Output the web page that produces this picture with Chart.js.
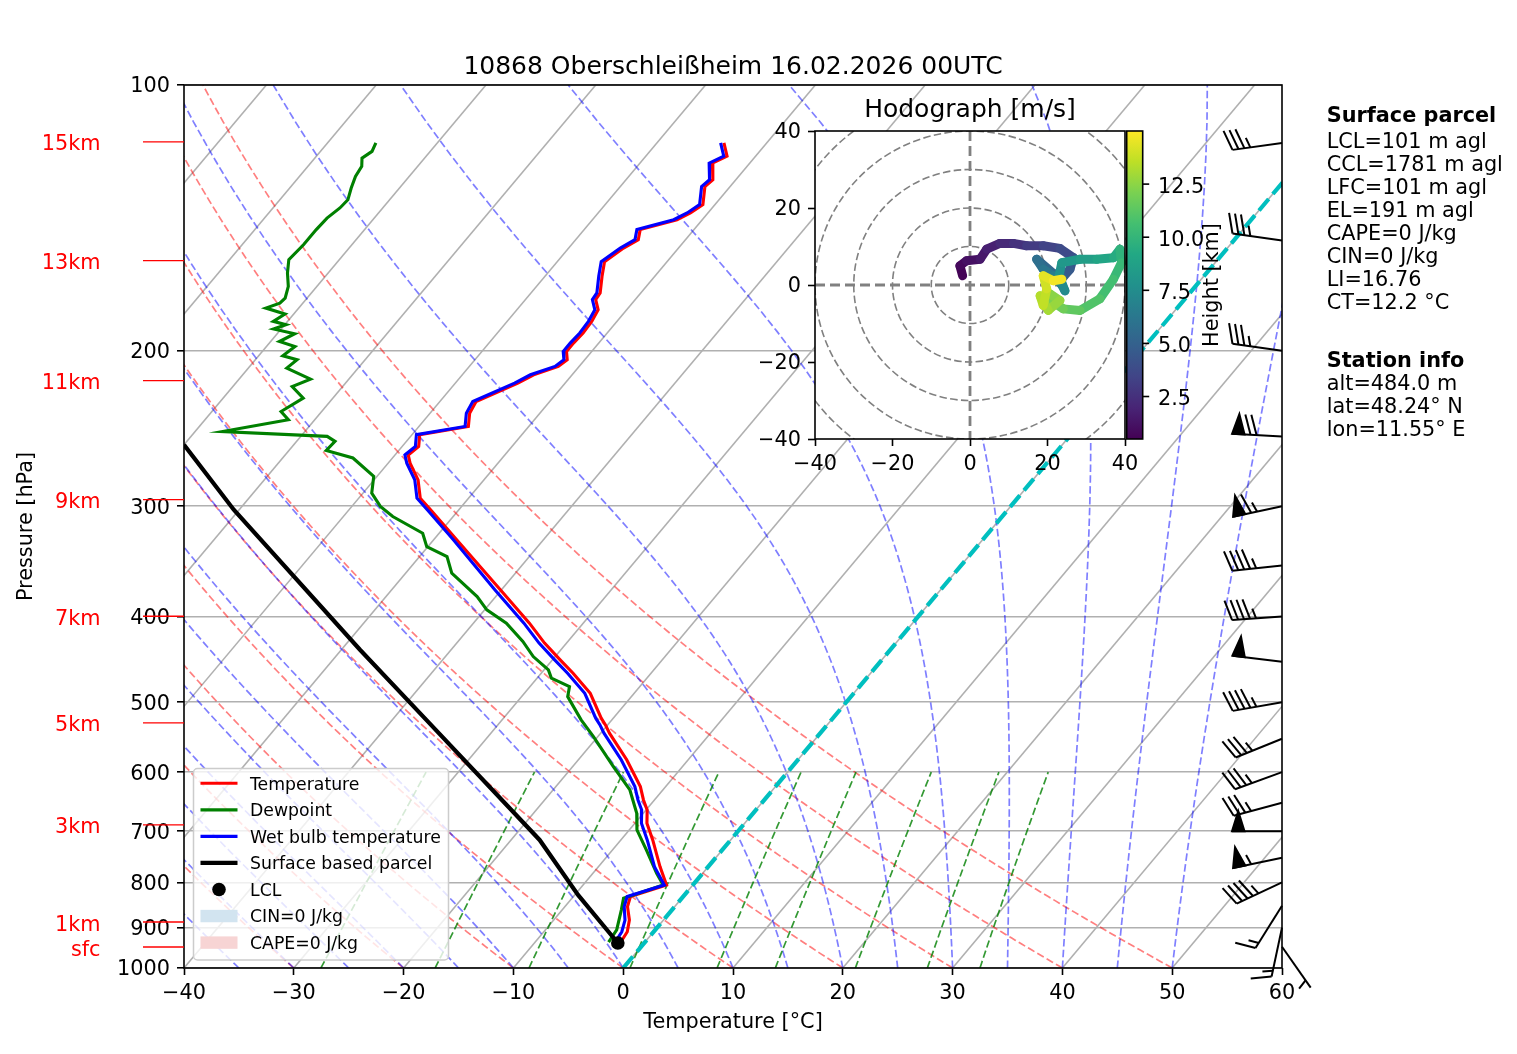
<!DOCTYPE html>
<html>
<head>
<meta charset="utf-8">
<title>10868 Oberschleißheim Skew-T</title>
<script src="https://cdn.jsdelivr.net/npm/chart.js@4.4.1/dist/chart.umd.min.js"></script>
<style>
html,body{margin:0;padding:0;background:#ffffff;overflow:hidden;}
#wrap{position:relative;width:1517px;height:1054px;background:#fff;}
#skew{position:absolute;left:0;top:0;width:1517px;height:1054px;}
#hodo{position:absolute;left:760px;top:85px;width:480px;height:400px;}
</style>
</head>
<body>
<div id="wrap">
<canvas id="skew" width="1517" height="1054"></canvas>
<canvas id="hodo" width="480" height="400"></canvas>
</div>
<script>
// ---------------- DATA ----------------
const TITLE = '10868 Oberschleißheim 16.02.2026 00UTC';

const pressureTicks = [100, 200, 300, 400, 500, 600, 700, 800, 900, 1000];
const temperatureTicks = [-40, -30, -20, -10, 0, 10, 20, 30, 40, 50, 60];

// Temperature profile (hPa, °C)
const tempP = [116.3,120.4,122.6,128.0,130.3,136.6,139.6,142.1,145.8,149.7,153.0,158.5,164.7,172.0,175.0,179.7,185.2,190.9,196.0,200.3,204.7,208.3,212.9,217.6,228.3,235.3,243.6,248.9,256.6,262.4,268.1,280.0,293.7,304.1,327.4,373.0,406.9,428.6,447.7,463.6,488.5,521.3,530.5,542.1,581.0,623.2,645.2,662.2,685.7,716.1,767.7,805.4,830.1,852.1,882.5,909.8,935.0];
const tempT = [-53.9,-52.6,-53.4,-52.1,-52.3,-51.1,-51.6,-52.3,-54.9,-54.3,-55.0,-55.7,-54.8,-53.7,-53.6,-52.6,-52.3,-52.2,-52.3,-52.3,-51.6,-51.9,-53.5,-54.3,-56.7,-56.4,-55.5,-59.3,-58.5,-58.8,-58.0,-56.0,-54.4,-52.3,-47.9,-40.1,-34.9,-32.0,-29.3,-27.1,-24.0,-21.1,-20.2,-19.2,-15.6,-12.3,-11.0,-9.9,-8.9,-7.1,-4.4,-2.4,-4.8,-4.3,-3.1,-2.4,-2.2];
// Wet bulb temperature at the same levels (°C)
const wetT = [-54.2,-52.9,-53.7,-52.4,-52.6,-51.4,-51.9,-52.6,-55.2,-54.6,-55.3,-56.0,-55.1,-54.0,-53.9,-52.9,-52.6,-52.5,-52.6,-52.6,-51.9,-52.2,-53.8,-54.6,-57.0,-56.7,-55.8,-59.6,-58.8,-59.1,-58.3,-56.3,-54.7,-52.6,-48.2,-40.6,-35.4,-32.5,-29.8,-27.6,-24.5,-21.6,-20.7,-19.7,-16.1,-12.8,-11.5,-10.4,-9.4,-7.6,-4.9,-2.6,-5.1,-4.6,-3.5,-2.9,-2.7];
// Dewpoint profile (hPa, °C)
const dewP = [116.3,118.9,121.0,123.6,126.9,130.8,134.9,137.8,141.5,145.8,151.7,157.7,163.3,169.1,174.3,176.6,178.9,181.7,185.2,186.8,188.9,191.3,195.2,197.8,202.6,204.7,209.2,215.3,219.5,226.3,234.3,239.4,246.9,250.0,253.3,259.4,264.5,277.5,289.9,300.1,308.1,321.8,333.3,342.0,357.1,379.6,393.0,406.9,426.8,443.9,459.6,469.6,480.1,492.8,523.6,546.9,591.3,628.6,667.9,697.7,735.2,781.0,805.4,833.7,859.8,905.6,935.0];
const dewT = [-85.6,-85.3,-85.7,-85.1,-84.9,-84.4,-83.8,-83.9,-84.3,-84.4,-84.4,-84.6,-83.7,-82.6,-82.0,-82.1,-83.0,-80.8,-81.3,-79.9,-80.7,-78.4,-79.2,-77.4,-77.8,-76.2,-76.5,-73.5,-74.6,-72.7,-73.7,-72.4,-77.5,-67.6,-66.5,-66.6,-63.6,-60.3,-59.2,-57.4,-55.5,-51.5,-50.1,-47.5,-45.8,-41.7,-39.8,-37.0,-34.1,-32.0,-29.6,-28.7,-26.4,-25.8,-22.8,-20.4,-16.3,-13.0,-10.6,-9.3,-6.9,-4.2,-2.7,-5.3,-4.6,-3.5,-3.3];
// Surface based parcel
const parcelP = [936.9, 826.5, 716.1, 523.6, 436.1, 302.7, 255.5];
const parcelT = [-2.4, -9.7, -17.4, -36.9, -48.3, -70.5, -80.0];
// LCL
const lclP = [936.9];
const lclT = [-2.4];

// Height markers on the left (label, pressure)
const heightLabels = ['15km','13km','11km','9km','7km','5km','3km','1km','sfc'];
const heightP = [116.0, 158.1, 216.2, 294.9, 399.6, 527.7, 688.6, 887.0, 946.7];

// Wind barbs (hPa, kt, direction deg)
const barbP   = [116.3, 150, 200, 250, 300, 350, 400, 450, 500, 550, 600, 650, 700, 750, 800, 850, 900, 946];
const barbSpd = [35, 35, 35, 70, 65, 45, 45, 50, 45, 35, 35, 35, 50, 55, 45, 15, 15, 5];
const barbDir = [262, 278, 278, 273, 258, 264, 266, 277, 260, 248, 250, 255, 270, 258, 245, 212, 192, 145];

// Hodograph (m/s) coloured by height (km)
const hodoH = [0.5,0.7,1.0,1.3,1.6,2.0,2.4,2.8,3.2,3.6,4.0,4.4,4.8,5.2,5.6,6.0,6.4,6.8,7.2,7.6,8.0,8.4,8.8,9.2,9.6,10.0,10.4,10.8,11.2,11.6,12.0,12.3,12.6,12.9,13.2,13.5,13.8,14.2,14.6,15.0];
const hodoU = [-1.9,-2.6,-0.9,2.6,4.3,7.7,11.2,14.6,18.9,23.2,26.7,25.8,24.0,21.5,17.2,18.9,21.5,23.7,24.5,23.0,23.7,28.4,32.7,37.0,38.7,39.1,37.0,33.5,28.4,24.1,21.5,20.6,23.2,20.2,18.1,18.9,19.8,18.9,21.5,23.7];
const hodoV = [2.4,5.0,6.3,6.7,9.3,10.8,10.8,10.2,10.2,9.5,7.1,4.1,2.0,3.0,6.7,4.1,2.4,0.0,-1.5,2.5,5.8,6.7,6.7,7.1,9.3,5.8,1.5,-3.6,-6.6,-6.2,-4.5,-2.3,-4.0,-6.6,-2.8,-5.3,-1.0,2.4,1.1,1.5];
const hodoTicks = [-40, -20, 0, 20, 40];
const hodoRings = [10, 20, 30, 40, 50];
const cbarTicks = [2.5, 5.0, 7.5, 10.0, 12.5];

// Text block on the right
const parcelInfoTitle = 'Surface parcel';
const parcelInfo = ['LCL=101 m agl','CCL=1781 m agl','LFC=101 m agl','EL=191 m agl','CAPE=0 J/kg','CIN=0 J/kg','LI=16.76','CT=12.2 °C'];
const stationInfoTitle = 'Station info';
const stationInfo = ['alt=484.0 m','lat=48.24° N','lon=11.55° E'];

// Background guide lines
const dryAdiabatT0 = [-40,-30,-20,-10,0,10,20,30,40,50];
const moistAdiabatT0 = [-40,-35,-30,-25,-20,-15,-10,-5,0,5,10,15,20,25,30,35,40,45,50];
const mixingRatios = [0.0004,0.001,0.002,0.004,0.007,0.01,0.016,0.024,0.032];

// ---------------- HELPERS ----------------
const FONT = "'DejaVu Sans', 'Liberation Sans', sans-serif";
const SKEW = 67.5; // skew-T projection (°C per decade of pressure)
const sx = (T, p) => T + SKEW * Math.log10(1000 / p);
const prof = (P, T) => P.map((p, i) => ({x: sx(T[i], p), y: p}));
const fmt = v => (v < 0 ? '\u2212' + Math.abs(v) : String(v));

function txt(ctx, s, x, y, size, o) {
  o = o || {};
  ctx.save();
  ctx.font = (o.bold ? 'bold ' : '') + size + 'px ' + FONT;
  ctx.fillStyle = o.color || '#000';
  ctx.textAlign = o.align || 'left';
  ctx.textBaseline = 'alphabetic';
  ctx.translate(x, y);
  if (o.rot) ctx.rotate(o.rot);
  ctx.fillText(s, 0, 0.364 * size);
  ctx.restore();
}

const VIR = [[0,'#440154'],[0.1,'#482475'],[0.2,'#414487'],[0.3,'#355f8d'],[0.4,'#2a788e'],[0.5,'#21918c'],[0.6,'#22a884'],[0.7,'#44bf70'],[0.8,'#7ad151'],[0.9,'#bddf26'],[1,'#fde725']];
function hex2rgb(h){return [parseInt(h.substr(1,2),16),parseInt(h.substr(3,2),16),parseInt(h.substr(5,2),16)];}
function viridis(t){
  t = Math.max(0, Math.min(1, t));
  for (let i = 0; i < VIR.length - 1; i++) {
    if (t <= VIR[i+1][0]) {
      const f = (t - VIR[i][0]) / (VIR[i+1][0] - VIR[i][0]);
      const a = hex2rgb(VIR[i][1]), b = hex2rgb(VIR[i+1][1]);
      return 'rgb(' + a.map((c, k) => Math.round(c + (b[k] - c) * f)).join(',') + ')';
    }
  }
  return VIR[VIR.length-1][1];
}

function mk(data, color, width, dash) {
  return {data, borderColor: color, backgroundColor: color, borderWidth: width, borderDash: dash || [],
          showLine: true, pointRadius: 0, pointHoverRadius: 0, fill: false, clip: 0, tension: 0};
}

// guide lines
const pGuide = []; for (let p = 1000; p >= 100; p -= 5) pGuide.push(p);
function dryLine(t0) {
  return pGuide.map(p => ({x: sx((t0 + 273.15) * Math.pow(p / 1000, 0.28571) - 273.15, p), y: p}));
}
function moistLine(t0) {
  const Rd = 287.04749, Cp = 1004.6662, Lv = 2.50084e6, eps = 0.6219569;
  const f = (p, T) => {
    const es = 6.112 * Math.exp(17.67 * (T - 273.15) / (T - 29.65));
    const rs = eps * es / (p - es);
    return (Rd * T + Lv * rs) / (Cp + Lv * Lv * rs * eps / (Rd * T * T)) / p;
  };
  let T = t0 + 273.15; const h = -2; const out = [{x: sx(t0, 1000), y: 1000}];
  for (let i = 1; i <= 450; i++) {
    const p = 1000 + h * (i - 1);
    const k1 = f(p, T), k2 = f(p + h/2, T + h/2*k1), k3 = f(p + h/2, T + h/2*k2), k4 = f(p + h, T + h*k3);
    T += h / 6 * (k1 + 2*k2 + 2*k3 + k4);
    const pn = 1000 + h * i;
    if (pn % 10 === 0) out.push({x: sx(T - 273.15, pn), y: pn});
  }
  return out;
}
function mixLine(w) {
  const out = [];
  for (let p = 1000; p >= 600; p -= 10) {
    const e = w * p / (0.6219569 + w);
    const l = Math.log(e / 6.112);
    out.push({x: sx(243.5 * l / (17.67 - l), p), y: p});
  }
  return out;
}

// ---------------- DATASETS (bottom to top) ----------------
const layers = [];
for (let t = -160; t <= 60; t += 10) layers.push(mk([{x: sx(t, 1000), y: 1000}, {x: sx(t, 100), y: 100}], '#b0b0b0', 1.6));
dryAdiabatT0.forEach(t0 => layers.push(mk(dryLine(t0), 'rgba(255,0,0,0.5)', 1.7, [7.5, 3.3])));
moistAdiabatT0.forEach(t0 => layers.push(mk(moistLine(t0), 'rgba(0,0,255,0.5)', 1.7, [7.5, 3.3])));
mixingRatios.forEach(w => layers.push(mk(mixLine(w), 'rgba(0,128,0,0.8)', 1.7, [7.5, 3.3])));
layers.push(mk([{x: 0, y: 1000}, {x: sx(0, 100), y: 100}], '#00bfbf', 4.2, [15, 6.5]));
layers.push(mk(prof(tempP, tempT), '#ff0000', 3.1));
layers.push(mk(prof(dewP, dewT), '#008000', 3.1));
layers.push(mk(prof(tempP, wetT), '#0000ff', 3.1));
layers.push(mk(prof(parcelP, parcelT), '#000000', 4.2));
layers.push({data: prof(lclP, lclT), showLine: false, pointRadius: 6.8, pointBackgroundColor: '#000', pointBorderColor: '#000', pointBorderWidth: 0, clip: false});
layers.forEach((d, i) => { d.order = layers.length - i; });

// ---------------- DECORATION ----------------
function drawBarb(ctx, x0, y0, spd, dir) {
  const L = 50, fh = 20, fw = 12.5, sp = 6;
  const r = dir * Math.PI / 180;
  const s = {x: Math.sin(r), y: -Math.cos(r)};
  const n = {x: -s.y, y: s.x};
  const P = (a, b) => [x0 + a * s.x + b * n.x, y0 + a * s.y + b * n.y];
  let v = Math.round(spd / 5) * 5;
  const nf = Math.floor(v / 50); v -= nf * 50;
  const nb = Math.floor(v / 10); v -= nb * 10;
  const half = v >= 5;
  ctx.save();
  ctx.strokeStyle = '#000'; ctx.fillStyle = '#000'; ctx.lineWidth = 2; ctx.lineCap = 'butt'; ctx.lineJoin = 'miter';
  ctx.beginPath(); ctx.moveTo(...P(0, 0)); ctx.lineTo(...P(L, 0)); ctx.stroke();
  let o = L;
  for (let i = 0; i < nf; i++) {
    if (o !== L) o += sp / 2;
    ctx.beginPath(); ctx.moveTo(...P(o, 0)); ctx.lineTo(...P(o - fw / 2, fh)); ctx.lineTo(...P(o - fw, 0)); ctx.closePath();
    ctx.fill(); ctx.stroke();
    o -= fw + sp;
  }
  for (let i = 0; i < nb; i++) {
    ctx.beginPath(); ctx.moveTo(...P(o, 0)); ctx.lineTo(...P(o + fw / 2, fh)); ctx.stroke();
    o -= sp;
  }
  if (half) {
    if (o === L) o -= 1.5 * sp;
    ctx.beginPath(); ctx.moveTo(...P(o, 0)); ctx.lineTo(...P(o + fw / 4, fh / 2)); ctx.stroke();
  }
  ctx.restore();
}

const legendItems = [
  {label: 'Temperature', kind: 'line', color: '#ff0000', w: 3.1},
  {label: 'Dewpoint', kind: 'line', color: '#008000', w: 3.1},
  {label: 'Wet bulb temperature', kind: 'line', color: '#0000ff', w: 3.1},
  {label: 'Surface based parcel', kind: 'line', color: '#000000', w: 4.2},
  {label: 'LCL', kind: 'dot', color: '#000000'},
  {label: 'CIN=0 J/kg', kind: 'patch', color: 'rgb(210,228,240)'},
  {label: 'CAPE=0 J/kg', kind: 'patch', color: 'rgb(247,212,212)'}
];
function drawLegend(ctx) {
  const bx = 193.5, by = 768.5, bw = 255, bh = 191.5, r = 4;
  ctx.save();
  ctx.beginPath();
  ctx.moveTo(bx + r, by); ctx.lineTo(bx + bw - r, by); ctx.arcTo(bx + bw, by, bx + bw, by + r, r);
  ctx.lineTo(bx + bw, by + bh - r); ctx.arcTo(bx + bw, by + bh, bx + bw - r, by + bh, r);
  ctx.lineTo(bx + r, by + bh); ctx.arcTo(bx, by + bh, bx, by + bh - r, r);
  ctx.lineTo(bx, by + r); ctx.arcTo(bx, by, bx + r, by, r); ctx.closePath();
  ctx.fillStyle = 'rgba(255,255,255,0.8)'; ctx.fill();
  ctx.strokeStyle = '#cccccc'; ctx.lineWidth = 1.5; ctx.stroke();
  legendItems.forEach((it, i) => {
    const yc = 783.3 + i * 26.55;
    if (it.kind === 'line') {
      ctx.strokeStyle = it.color; ctx.lineWidth = it.w; ctx.beginPath(); ctx.moveTo(200.5, yc); ctx.lineTo(237.5, yc); ctx.stroke();
    } else if (it.kind === 'dot') {
      ctx.fillStyle = it.color; ctx.beginPath(); ctx.arc(219, yc, 6.8, 0, Math.PI * 2); ctx.fill();
    } else {
      ctx.fillStyle = it.color; ctx.fillRect(200.5, yc - 6.2, 37, 12.4);
    }
    txt(ctx, it.label, 250, yc, 17.3);
  });
  ctx.restore();
}

const skewPlugin = {
  id: 'skewDecor',
  afterDatasetsDraw(chart) {
    const {ctx, chartArea: a, scales: {y}} = chart;
    ctx.save();
    ctx.strokeStyle = '#000'; ctx.lineWidth = 1.6;
    ctx.strokeRect(a.left, a.top, a.right - a.left, a.bottom - a.top);
    ctx.restore();
    heightLabels.forEach((lab, i) => {
      const py = y.getPixelForValue(heightP[i]);
      ctx.save(); ctx.strokeStyle = '#ff0000'; ctx.lineWidth = 1.3;
      ctx.beginPath(); ctx.moveTo(a.left - 41, py); ctx.lineTo(a.left, py); ctx.stroke(); ctx.restore();
      txt(ctx, lab, 100.5, py + 1, 20.8, {color: '#ff0000', align: 'right'});
    });
    barbP.forEach((p, i) => drawBarb(ctx, a.right, y.getPixelForValue(p), barbSpd[i], barbDir[i]));
    drawLegend(ctx);
    txt(ctx, TITLE, (a.left + a.right) / 2, 65, 25, {align: 'center'});
    txt(ctx, 'Temperature [°C]', (a.left + a.right) / 2, 1020, 20.8, {align: 'center'});
    txt(ctx, 'Pressure [hPa]', 24, (a.top + a.bottom) / 2, 20.8, {align: 'center', rot: -Math.PI / 2});
    txt(ctx, parcelInfoTitle, 1326.7, 114, 20.8, {bold: true});
    parcelInfo.forEach((s, i) => txt(ctx, s, 1326.7, 140.7 + i * 22.95, 20.8));
    txt(ctx, stationInfoTitle, 1326.7, 359.3, 20.8, {bold: true});
    stationInfo.forEach((s, i) => txt(ctx, s, 1326.7, 382.3 + i * 23.3, 20.8));
  }
};

new Chart(document.getElementById('skew'), {
  type: 'scatter',
  data: {datasets: layers},
  options: {
    responsive: false, devicePixelRatio: 1, animation: false, events: [],
    layout: {padding: {left: 0, top: 85, right: 235, bottom: 0}},
    plugins: {legend: {display: false}, tooltip: {enabled: false}, title: {display: false}},
    scales: {
      x: {
        type: 'linear', position: 'bottom', min: -40, max: 60,
        afterBuildTicks: s => { s.ticks = temperatureTicks.map(v => ({value: v})); },
        afterFit: s => { s.height = 86; },
        ticks: {color: '#000', font: {family: FONT, size: 20.8}, padding: 6, maxRotation: 0, autoSkip: false, callback: v => fmt(v)},
        grid: {drawOnChartArea: false, drawTicks: true, tickLength: 7, tickColor: '#000', tickWidth: 1.6},
        border: {display: false}
      },
      y: {
        type: 'logarithmic', position: 'left', min: 100, max: 1000, reverse: true,
        afterBuildTicks: s => { s.ticks = pressureTicks.map(v => ({value: v})); },
        afterFit: s => { s.width = 184; },
        ticks: {color: '#000', font: {family: FONT, size: 20.8}, padding: 7, labelOffset: 2, autoSkip: false, callback: v => String(v)},
        grid: {color: '#b0b0b0', lineWidth: 1.6, drawTicks: true, tickLength: 7, tickColor: '#000', tickWidth: 1.6},
        border: {display: false}
      }
    }
  },
  plugins: [skewPlugin]
});

// ---------------- HODOGRAPH ----------------
const hMin = Math.min(...hodoH), hMax = Math.max(...hodoH);
const hNorm = h => (h - hMin) / (hMax - hMin);

const hodoPlugin = {
  id: 'hodoDecor',
  beforeDraw(chart) {
    const {ctx, chartArea: a} = chart;
    ctx.save(); ctx.fillStyle = '#ffffff'; ctx.fillRect(a.left, a.top, a.right - a.left, a.bottom - a.top); ctx.restore();
  },
  beforeDatasetsDraw(chart) {
    const {ctx, chartArea: a, scales: {x, y}} = chart;
    ctx.save();
    ctx.beginPath(); ctx.rect(a.left, a.top, a.right - a.left, a.bottom - a.top); ctx.clip();
    const cx = x.getPixelForValue(0), cy = y.getPixelForValue(0);
    ctx.strokeStyle = '#808080'; ctx.lineWidth = 1.6; ctx.setLineDash([7.5, 3.3]);
    hodoRings.forEach(r => {
      const rx = x.getPixelForValue(r) - cx, ry = cy - y.getPixelForValue(r);
      ctx.beginPath(); ctx.ellipse(cx, cy, rx, ry, 0, 0, Math.PI * 2); ctx.stroke();
    });
    ctx.lineWidth = 2.8; ctx.setLineDash([10, 5]);
    ctx.beginPath(); ctx.moveTo(cx, a.top); ctx.lineTo(cx, a.bottom); ctx.stroke();
    ctx.beginPath(); ctx.moveTo(a.left, cy); ctx.lineTo(a.right, cy); ctx.stroke();
    ctx.restore();
  },
  afterDraw(chart) {
    const {ctx, chartArea: a} = chart;
    ctx.save();
    ctx.strokeStyle = '#000'; ctx.lineWidth = 1.6;
    ctx.strokeRect(a.left, a.top, a.right - a.left, a.bottom - a.top);
    const c0 = a.right + 1.7, c1 = a.right + 17.7, t0 = a.top, t1 = a.bottom;
    const g = ctx.createLinearGradient(0, t1, 0, t0);
    VIR.forEach(s => g.addColorStop(s[0], s[1]));
    ctx.fillStyle = g; ctx.fillRect(c0, t0, c1 - c0, t1 - t0);
    ctx.strokeRect(c0, t0, c1 - c0, t1 - t0);
    cbarTicks.forEach(v => {
      const py = t1 - hNorm(v) * (t1 - t0);
      ctx.beginPath(); ctx.moveTo(c1, py); ctx.lineTo(c1 + 6.5, py); ctx.stroke();
      txt(ctx, v.toFixed(1), c1 + 15.3, py + 1, 20.8);
    });
    ctx.restore();
    txt(ctx, 'Height [km]', 450, (t0 + t1) / 2, 20.8, {align: 'center', rot: -Math.PI / 2});
    txt(ctx, 'Hodograph [m/s]', (a.left + a.right) / 2, 22.5, 25, {align: 'center'});
  }
};

new Chart(document.getElementById('hodo'), {
  type: 'scatter',
  data: {datasets: [{
    data: hodoU.map((u, i) => ({x: u, y: hodoV[i]})),
    showLine: true, borderWidth: 9, pointRadius: 0, pointHoverRadius: 0, clip: 6, tension: 0,
    borderCapStyle: 'round', borderJoinStyle: 'round', borderColor: viridis(0),
    segment: {borderColor: c => viridis(hNorm((hodoH[c.p0DataIndex] + hodoH[c.p1DataIndex]) / 2))}
  }]},
  options: {
    responsive: false, devicePixelRatio: 1, animation: false, events: [],
    layout: {padding: {left: 0, top: 46, right: 115, bottom: 0}},
    plugins: {legend: {display: false}, tooltip: {enabled: false}},
    scales: {
      x: {
        type: 'linear', position: 'bottom', min: -40, max: 40,
        afterBuildTicks: s => { s.ticks = hodoTicks.map(v => ({value: v})); },
        afterFit: s => { s.height = 46; },
        ticks: {color: '#000', font: {family: FONT, size: 20.8}, padding: 6, maxRotation: 0, autoSkip: false, callback: v => fmt(v)},
        grid: {drawOnChartArea: false, drawTicks: true, tickLength: 7, tickColor: '#000', tickWidth: 1.6},
        border: {display: false}
      },
      y: {
        type: 'linear', position: 'left', min: -40, max: 40,
        afterBuildTicks: s => { s.ticks = hodoTicks.map(v => ({value: v})); },
        afterFit: s => { s.width = 55; },
        ticks: {color: '#000', font: {family: FONT, size: 20.8}, padding: 7, labelOffset: 2, autoSkip: false, callback: v => fmt(v)},
        grid: {drawOnChartArea: false, drawTicks: true, tickLength: 7, tickColor: '#000', tickWidth: 1.6},
        border: {display: false}
      }
    }
  },
  plugins: [hodoPlugin]
});
</script>
</body>
</html>
